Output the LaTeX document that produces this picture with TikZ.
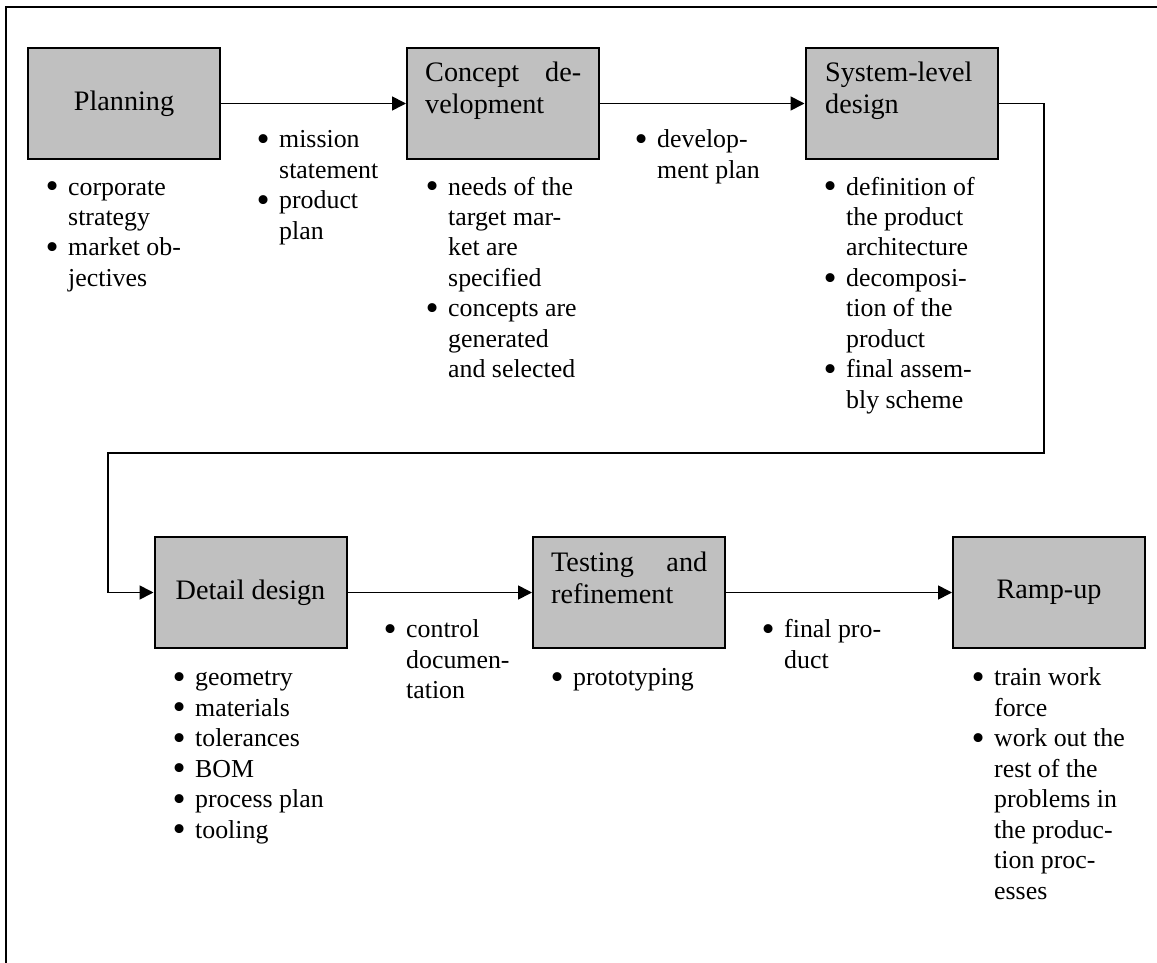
\documentclass[tikz,border=0pt]{standalone}
\usepackage{fontspec}
\setmainfont{Liberation Serif}
\usetikzlibrary{arrows.meta}

\definecolor{boxgray}{HTML}{C0C0C0}

% one bullet column of fixed width, then the item text
\newcommand\itemdot{\makebox[22.5pt][l]{\raisebox{-3.6pt}[0pt][0pt]{\scalebox{1.45}{\textbullet}}}}
\newcommand\itemgap{\makebox[22.5pt][l]{}}
\newcommand\itemlist[1]{\begin{tabular}[t]{@{}l@{}}#1\end{tabular}}

\tikzset{
  phase/.style={draw, line width=2pt, fill=boxgray, rectangle,
    minimum width=192pt, minimum height=111pt, inner sep=0pt,
    font=\fontsize{28.2}{31.5}\selectfont},
  phaselabel/.style={anchor=base west, inner sep=0pt,
    font=\fontsize{28.2}{31.5}\selectfont},
  notes/.style={anchor=base west, inner sep=0pt,
    font=\fontsize{25.85}{30.5}\selectfont},
  flow/.style={line width=1.7pt, -{Triangle[length=14pt,width=14pt]}},
  frame/.style={line width=1.8pt}
}

\begin{document}
\begin{tikzpicture}[x=1pt,y=-1pt]
\useasboundingbox (0,0) rectangle (1157,963);

% outer frame (top and left edges)
\draw[frame] (6,963) -- (6,7) -- (1157,7);

% phase boxes
\node[phase] (plan) at (124,103.5) {\raisebox{-3pt}{Planning}};
\node[phase] (concept) at (503,103.5) {};
\node[phase] (system) at (901.5,103.5) {};
\node[phase] (detail) at (250.5,592.5) {\raisebox{-3pt}{Detail design}};
\node[phase] (test) at (629,592.5) {};
\node[phase] (ramp) at (1049,592.5) {\raisebox{-3pt}{Ramp-up}};

% labels set at the top of their boxes
\node[phaselabel] (conceptlbl) at (425,82)
  {\itemlist{\makebox[156pt][s]{Concept de-}\\velopment}};
\node[phaselabel] (systemlbl) at (825,82) {\itemlist{System-level\\design}};
\node[phaselabel] (testlbl) at (551,571.5)
  {\itemlist{\makebox[156pt][s]{Testing and}\\refinement}};

% flow between phases
\draw[flow] (plan.east) -- (concept.west);
\draw[flow] (concept.east) -- (system.west);
\coordinate (c1) at (1044,103.5);
\coordinate (c2) at (1044,453);
\coordinate (c3) at (108,453);
\coordinate (c4) at (108,592.5);
\draw[flow] (system.east) -- (c1) -- (c2) -- (c3) -- (c4) -- (detail.west);
\draw[flow] (detail.east) -- (test.west);
\draw[flow] (test.east) -- (ramp.west);

% activities and outputs
\node[notes] (plannotes) at (45.5,195) {\itemlist{
  \itemdot corporate\\ \itemgap strategy\\
  \itemdot market ob-\\ \itemgap jectives}};
\node[notes] (planout) at (256.5,148) {\itemlist{
  \itemdot mission\\ \itemgap statement\\
  \itemdot product\\ \itemgap plan}};
\node[notes] (conceptnotes) at (425.5,195) {\itemlist{
  \itemdot needs of the\\ \itemgap target mar-\\ \itemgap ket are\\ \itemgap specified\\
  \itemdot concepts are\\ \itemgap generated\\ \itemgap and selected}};
\node[notes] (conceptout) at (634.5,148) {\itemlist{
  \itemdot develop-\\ \itemgap ment plan}};
\node[notes] (systemnotes) at (823.5,195) {\itemlist{
  \itemdot definition of\\ \itemgap the product\\ \itemgap architecture\\
  \itemdot decomposi-\\ \itemgap tion of the\\ \itemgap product\\
  \itemdot final assem-\\ \itemgap bly scheme}};
\node[notes] (detailnotes) at (172.5,685.5) {\itemlist{
  \itemdot geometry\\ \itemdot materials\\ \itemdot tolerances\\
  \itemdot BOM\\ \itemdot process plan\\ \itemdot tooling}};
\node[notes] (detailout) at (383.5,637.7) {\itemlist{
  \itemdot control\\ \itemgap documen-\\ \itemgap tation}};
\node[notes] (testnotes) at (550.5,685.5) {\itemlist{
  \itemdot prototyping}};
\node[notes] (testout) at (761.5,637.7) {\itemlist{
  \itemdot final pro-\\ \itemgap duct}};
\node[notes] (rampnotes) at (971.5,685.5) {\itemlist{
  \itemdot train work\\ \itemgap force\\
  \itemdot work out the\\ \itemgap rest of the\\ \itemgap problems in\\
  \itemgap the produc-\\ \itemgap tion proc-\\ \itemgap esses}};
\end{tikzpicture}
\end{document}
